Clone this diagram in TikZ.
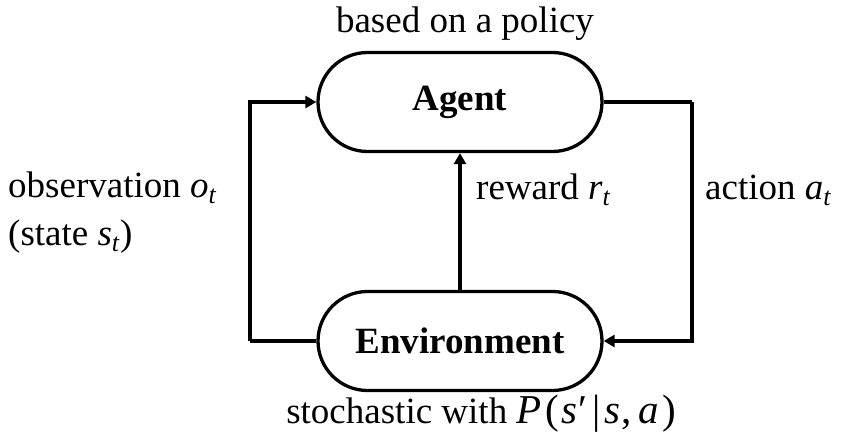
\documentclass[tikz,border=0pt]{standalone}
\usepackage{fontspec}
\setmainfont{Liberation Serif}
\usetikzlibrary{shapes.misc,arrows.meta}
\newcommand{\vsub}[2]{\textit{#1}\textsubscript{\textit{#2}}}
\begin{document}
\begin{tikzpicture}[x=1pt,y=-1pt,
  box/.style={rounded rectangle,draw,line width=3.3pt,minimum width=284pt,minimum height=99pt,inner sep=0pt,
    font=\fontsize{37}{44}\selectfont\bfseries},
  conn/.style={line width=3.3pt},
  arr/.style={conn,-{Triangle[length=11pt,width=12pt]}},
  lbl/.style={font=\fontsize{37}{44}\selectfont,inner sep=0pt}]
\useasboundingbox (0,0) rectangle (846,439);
\fill[white] (0,0) rectangle (846,439);
\node[box] (agent) at (460,102) {Agent};
\node[box] (env) at (460,341) {Environment};
\coordinate (ar) at (692,102);
\coordinate (br) at (692,341);
\coordinate (bl) at (250,341);
\coordinate (al) at (250,102);
\draw[conn] (agent.east) -- (ar);
\draw[arr] (ar) -- (br) -- (env.east);
\draw[conn] (env.west) -- (bl);
\draw[arr] (bl) -- (al) -- (agent.west);
\draw[arr] (env.north) -- (agent.south);
\node[lbl] (policy) at (465,24) {based on a policy};
\node[lbl] (stoch) at (481,414) {stochastic with {\fontsize{41}{44}\selectfont\textit{P}\kern4pt(\kern2pt\textit{s}\kern1pt′\kern5pt|\kern4pt\textit{s}\kern1pt,\kern7pt\textit{a}\kern3pt)}};
\node[lbl,anchor=west] (obs) at (8,188) {observation \vsub{o}{t}};
\node[lbl,anchor=west] (state) at (8,237) {(state \vsub{s}{t})};
\node[lbl,anchor=west] (rew) at (476,190) {reward \vsub{r}{t}};
\node[lbl,anchor=west] (act) at (705,190) {action \vsub{a}{t}};
\end{tikzpicture}
\end{document}
